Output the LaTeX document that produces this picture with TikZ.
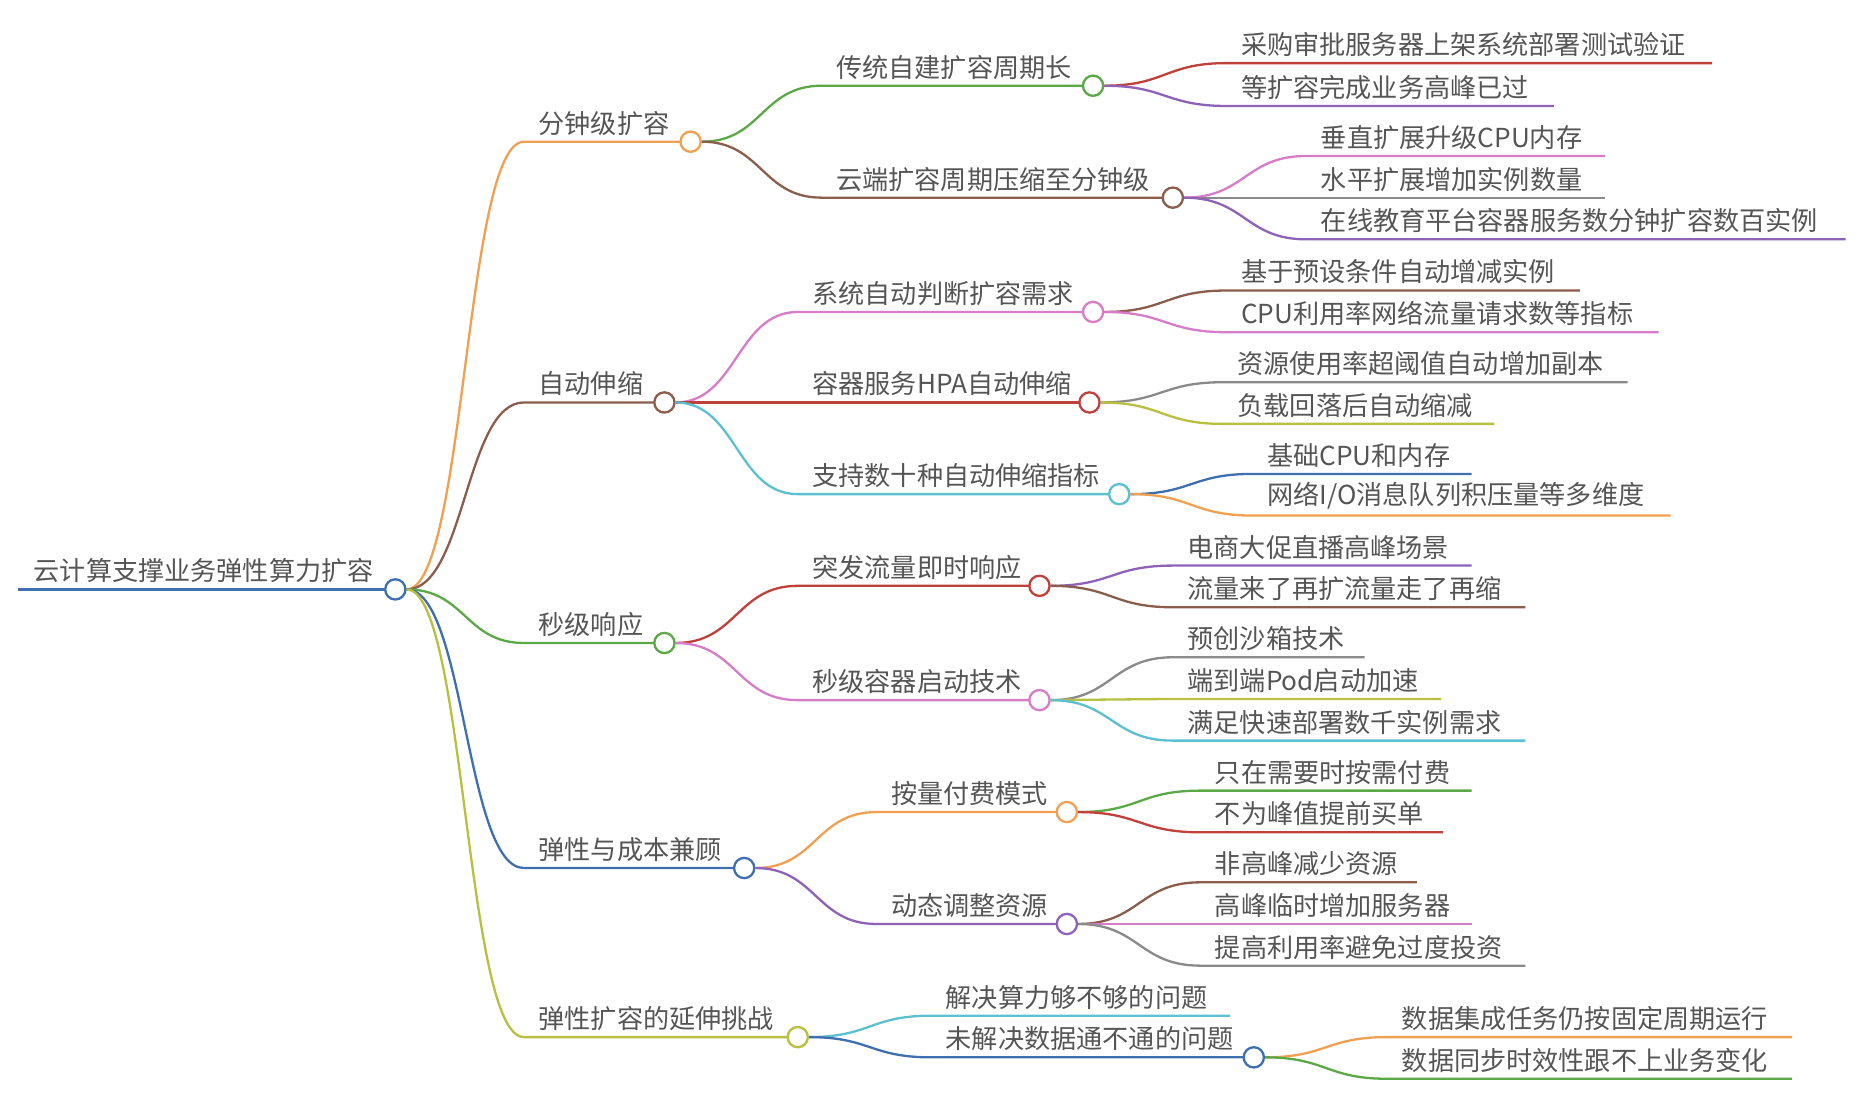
\documentclass[tikz,border=0pt]{standalone}
\usepackage{fontspec}
\setmainfont{Noto Sans CJK SC}
\usetikzlibrary{calc}
\definecolor{cOr}{HTML}{F0A050}
\definecolor{cBr}{HTML}{8B5E4B}
\definecolor{cGr}{HTML}{5BA846}
\definecolor{cBl}{HTML}{3E6FB0}
\definecolor{cOl}{HTML}{B8C040}
\definecolor{cRd}{HTML}{C0403A}
\definecolor{cPu}{HTML}{8E62B8}
\definecolor{cPk}{HTML}{D77CC8}
\definecolor{cGy}{HTML}{8A8A8A}
\definecolor{cCy}{HTML}{5BC0D0}
\definecolor{txt}{HTML}{555555}

\tikzset{
  lbl/.style={anchor=south west, inner sep=0pt, text=txt, font=\fontsize{12.5pt}{14pt}\selectfont},
  edge/.style={line width=1.1pt},
  dot/.style={circle, fill=white, line width=1.1pt, minimum size=0.34cm, inner sep=0pt}
}

% #1 name, #2 parent, #3 line start, #4 line end, #5 y, #6 colour, #7 text
\newcommand\mmleaf[7]{%
  \coordinate (#1-s) at (#3,#5);
  \coordinate (#1-e) at (#4,#5);
  \node[lbl] (#1) at ($(#1-s)+(12,-5)$) {#7};
  \draw[#6, edge] let \p1=(#2.east), \p2=(#1-s) in
    (#2) .. controls ({0.5*\x1+0.5*\x2},\y1) and ({0.5*\x1+0.5*\x2},\y2) .. (#1-s) -- (#1-e);
}
\newcommand\mmbranch[7]{%
  \mmleaf{#1}{#2}{#3}{#4}{#5}{#6}{#7}
  \node[dot, draw=#6] (#1-c) at (#1-e) {};
}

\begin{document}
\begin{tikzpicture}[x=0.02cm, y=-0.02cm]
  \useasboundingbox (0,0) rectangle (1568,933);

  % root
  \coordinate (root-s) at (15,495);
  \node[lbl] (root) at (28,490) {云计算支撑业务弹性算力扩容};
  \draw[cBl, edge] (root-s) -- (332,495);
  \node[dot, draw=cBl] (root-c) at (332,495) {};

  % level 1
  \mmbranch{a}{root-c}{440}{580}{119}{cOr}{分钟级扩容}
  \mmbranch{b}{root-c}{440}{558}{338}{cBr}{自动伸缩}
  \mmbranch{c}{root-c}{440}{558}{540}{cGr}{秒级响应}
  \mmbranch{d}{root-c}{440}{625}{729}{cBl}{弹性与成本兼顾}
  \mmbranch{e}{root-c}{440}{670}{871}{cOl}{弹性扩容的延伸挑战}

  % level 2
  \mmbranch{a1}{a-c}{690}{918}{72}{cGr}{传统自建扩容周期长}
  \mmbranch{a2}{a-c}{690}{985}{166}{cBr}{云端扩容周期压缩至分钟级}
  \mmbranch{b1}{b-c}{670}{918}{262}{cPk}{系统自动判断扩容需求}
  \mmbranch{b2}{b-c}{670}{915}{338}{cRd}{容器服务HPA自动伸缩}
  \mmbranch{b3}{b-c}{670}{940}{415}{cCy}{支持数十种自动伸缩指标}
  \mmbranch{c1}{c-c}{670}{873}{492}{cRd}{突发流量即时响应}
  \mmbranch{c2}{c-c}{670}{873}{588}{cPk}{秒级容器启动技术}
  \mmbranch{d1}{d-c}{736}{896}{682}{cOr}{按量付费模式}
  \mmbranch{d2}{d-c}{736}{896}{776}{cPu}{动态调整资源}
  \mmleaf{e1}{e-c}{782}{1033}{853}{cCy}{解决算力够不够的问题}
  \mmbranch{e2}{e-c}{782}{1053}{888}{cBl}{未解决数据通不通的问题}

  % level 3
  \mmleaf{a11}{a1-c}{1030}{1438}{53}{cRd}{采购审批服务器上架系统部署测试验证}
  \mmleaf{a12}{a1-c}{1030}{1305}{89}{cPu}{等扩容完成业务高峰已过}
  \mmleaf{a21}{a2-c}{1097}{1348}{131}{cPk}{垂直扩展升级CPU内存}
  \mmleaf{a22}{a2-c}{1097}{1348}{166}{cGy}{水平扩展增加实例数量}
  \mmleaf{a23}{a2-c}{1097}{1550}{201}{cPu}{在线教育平台容器服务数分钟扩容数百实例}
  \mmleaf{b11}{b1-c}{1030}{1327}{244}{cBr}{基于预设条件自动增减实例}
  \mmleaf{b12}{b1-c}{1030}{1393}{279}{cPk}{CPU利用率网络流量请求数等指标}
  \mmleaf{b21}{b2-c}{1027}{1367}{321}{cGy}{资源使用率超阈值自动增加副本}
  \mmleaf{b22}{b2-c}{1027}{1255}{356}{cOl}{负载回落后自动缩减}
  \mmleaf{b31}{b3-c}{1052}{1236}{398}{cBl}{基础CPU和内存}
  \mmleaf{b32}{b3-c}{1052}{1403}{433}{cOr}{网络I/O消息队列积压量等多维度}
  \mmleaf{c11}{c1-c}{985}{1236}{475}{cPu}{电商大促直播高峰场景}
  \mmleaf{c12}{c1-c}{985}{1281}{510}{cBr}{流量来了再扩流量走了再缩}
  \mmleaf{c21}{c2-c}{985}{1146}{552}{cGy}{预创沙箱技术}
  \mmleaf{c22}{c2-c}{985}{1210}{587}{cOl}{端到端Pod启动加速}
  \mmleaf{c23}{c2-c}{985}{1281}{622}{cCy}{满足快速部署数千实例需求}
  \mmleaf{d11}{d1-c}{1008}{1236}{664}{cGr}{只在需要时按需付费}
  \mmleaf{d12}{d1-c}{1008}{1212}{699}{cRd}{不为峰值提前买单}
  \mmleaf{d21}{d2-c}{1008}{1190}{741}{cBr}{非高峰减少资源}
  \mmleaf{d22}{d2-c}{1008}{1236}{776}{cPk}{高峰临时增加服务器}
  \mmleaf{d23}{d2-c}{1008}{1281}{811}{cGy}{提高利用率避免过度投资}
  \mmleaf{e21}{e2-c}{1165}{1505}{871}{cOr}{数据集成任务仍按固定周期运行}
  \mmleaf{e22}{e2-c}{1165}{1505}{906}{cGr}{数据同步时效性跟不上业务变化}
\end{tikzpicture}
\end{document}
